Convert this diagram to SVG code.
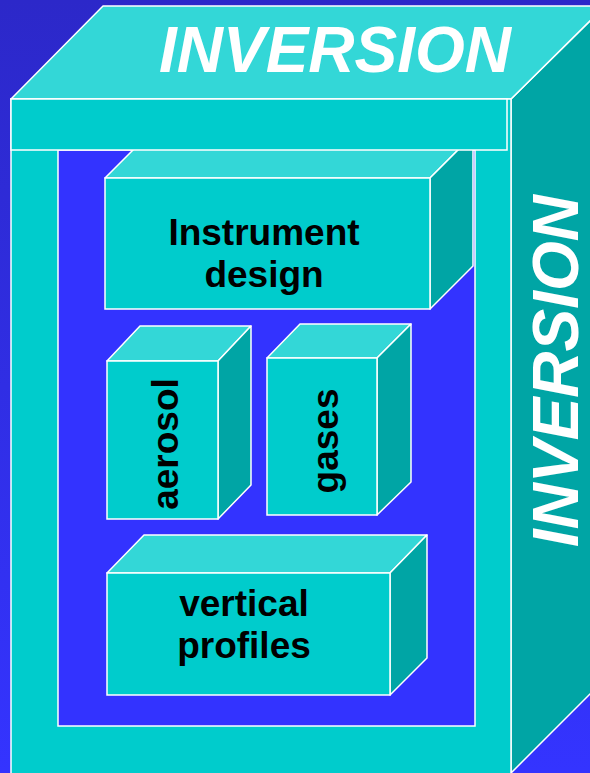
<svg xmlns="http://www.w3.org/2000/svg" width="590" height="773" viewBox="0 0 590 773">
<defs>
<linearGradient id="bg" x1="0" y1="0" x2="0" y2="1">
<stop offset="0" stop-color="#2C28C9"/>
<stop offset="1" stop-color="#3434FF"/>
</linearGradient>
<clipPath id="innerClip">
<rect x="58" y="150" width="417" height="576"/>
</clipPath>
</defs>
<style>
.front{fill:#00CCCC;stroke:#FFFFFF;stroke-width:1.5}
.top{fill:#33D7D7;stroke:#FFFFFF;stroke-width:1.5;stroke-linejoin:round}
.side{fill:#00A5A5;stroke:#FFFFFF;stroke-width:1.5;stroke-linejoin:round}
.inner{fill:#3333FF;stroke:#FFFFFF;stroke-width:1.5}
.lbl{font-family:"Liberation Sans",Arial,sans-serif;font-weight:bold;font-size:37px;fill:#000000;text-anchor:middle}
.big{font-family:"Liberation Sans",Arial,sans-serif;font-weight:bold;font-style:italic;font-size:64px;fill:#FFFFFF;text-anchor:middle}
</style>
<rect x="0" y="0" width="590" height="773" fill="url(#bg)"/>
<g id="frame">
<polygon class="side" points="511,99 605,6 605,679 511,773"/>
<polygon class="top" points="11,99 103,6 605,6 511,99"/>
<rect class="front" x="11" y="99" width="500" height="690"/>
<rect class="inner" x="58" y="150" width="417" height="576"/>
<text class="big" x="335" y="72">INVERSION</text>
<text class="big" transform="translate(578,371) rotate(-90)" x="0" y="0">INVERSION</text>
</g>
<g id="instrument-design">
<g clip-path="url(#innerClip)">
<polygon class="top" points="105,178 148,135 473,135 430,178"/>
<polygon class="side" points="430,178 473,135 473,266 430,309"/>
</g>
<rect class="front" x="105" y="178" width="325" height="131"/>
<text class="lbl" x="264" y="245">Instrument</text>
<text class="lbl" x="264" y="287">design</text>
</g>
<g id="frame-bar">
<rect class="front" x="11" y="99" width="496" height="51"/>
</g>
<g id="aerosol">
<polygon class="top" points="107,361 140,326 251,326 218,361"/>
<polygon class="side" points="218,361 251,326 251,485 218,519"/>
<rect class="front" x="107" y="361" width="111" height="158"/>
<text class="lbl" transform="translate(178,444) rotate(-90)" x="0" y="0">aerosol</text>
</g>
<g id="gases">
<polygon class="top" points="267,358 300,324 411,324 377,358"/>
<polygon class="side" points="377,358 411,324 411,482 377,515"/>
<rect class="front" x="267" y="358" width="110" height="157"/>
<text class="lbl" transform="translate(338,441) rotate(-90)" x="0" y="0">gases</text>
</g>
<g id="vertical-profiles">
<polygon class="top" points="107,573 144,535 427,535 390,573"/>
<polygon class="side" points="390,573 427,535 427,658 390,695"/>
<rect class="front" x="107" y="573" width="283" height="122"/>
<text class="lbl" x="244" y="616">vertical</text>
<text class="lbl" x="244" y="658">profiles</text>
</g>
<g id="connectors"/>
</svg>
